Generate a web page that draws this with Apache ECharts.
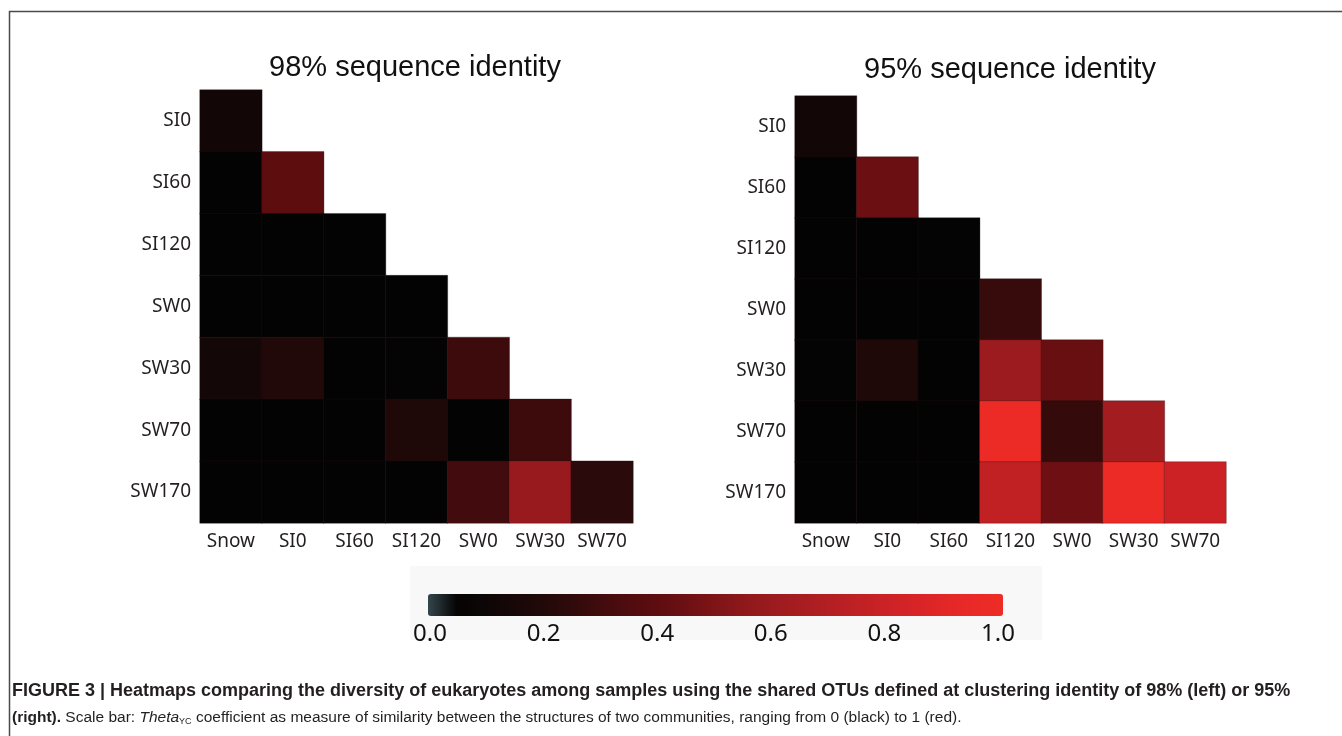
<!DOCTYPE html>
<html>
<head>
<meta charset="utf-8">
<style>
  html, body { margin: 0; padding: 0; background: #fff; }
  #main { width: 1342px; height: 736px; }
</style>
<script src="https://cdn.jsdelivr.net/npm/echarts@6/dist/echarts.min.js"></script>
</head>
<body>
<div id="main"></div>
<script>
; (function () {

    // samples (rows top -> bottom, columns left -> right)
    var rows = ['SI0', 'SI60', 'SI120', 'SW0', 'SW30', 'SW70', 'SW170'];
    var cols = ['Snow', 'SI0', 'SI60', 'SI120', 'SW0', 'SW30', 'SW70'];

    // Theta_YC, lower triangle, one array per row
    var theta98 = [
        [0.12],
        [0.02, 0.40],
        [0.02, 0.02, 0.02],
        [0.02, 0.02, 0.02, 0.02],
        [0.13, 0.20, 0.02, 0.03, 0.29],
        [0.02, 0.02, 0.02, 0.18, 0.02, 0.29],
        [0.02, 0.02, 0.02, 0.02, 0.30, 0.59, 0.23]
    ];
    var theta95 = [
        [0.12],
        [0.02, 0.44],
        [0.02, 0.02, 0.03],
        [0.02, 0.02, 0.02, 0.27],
        [0.04, 0.18, 0.02, 0.60, 0.43],
        [0.02, 0.02, 0.02, 0.98, 0.26, 0.63],
        [0.02, 0.02, 0.02, 0.76, 0.45, 0.98, 0.80]
    ];

    // colour ramp, stops every 0.05
    var ramp = ['#33464c', '#060404', '#0e0606', '#180707', '#220909', '#300a0b',
        '#420b0d', '#500c0e', '#5e0d0f', '#6e1013', '#7e1417', '#8e181b', '#9c1b1f',
        '#a81d21', '#b41f23', '#c02124', '#cc2226', '#d82427', '#e22727', '#ea2a27', '#ee2b27'];
    var cellRamp = ramp.slice();
    cellRamp[0] = '#030303';

    function toCells(tri) {
        var out = [];
        tri.forEach(function (row, r) {
            row.forEach(function (v, c) { out.push([c, r, v]); });
        });
        return out;
    }

    var font = '"Noto Sans", sans-serif';
    var labelStyle = { color: '#231f20', fontSize: 19, fontFamily: font };

    function catX(gi) {
        return {
            type: 'category', gridIndex: gi, data: cols,
            axisLine: { show: false }, axisTick: { show: false }, splitLine: { show: false },
            axisLabel: Object.assign({ margin: 9, interval: 0 }, labelStyle)
        };
    }
    function catY(gi) {
        return {
            type: 'category', gridIndex: gi, data: rows, inverse: true,
            axisLine: { show: false }, axisTick: { show: false }, splitLine: { show: false },
            axisLabel: Object.assign({ margin: 9, interval: 0 }, labelStyle)
        };
    }
    var cellStyle = { borderColor: 'rgba(40,18,18,0.55)', borderWidth: 0.6 };

    var myChart = echarts.init(document.getElementById('main'));
    var option = {
        backgroundColor: '#fff',
        animation: false,
        grid: [
            { left: 200, top: 90, width: 433, height: 433 },
            { left: 795, top: 96, width: 431, height: 427 },
            { left: 430, top: 594, width: 568, height: 22 }
        ],
        xAxis: [
            catX(0), catX(1),
            {
                type: 'value', gridIndex: 2, min: 0, max: 1, interval: 0.2,
                axisLine: { show: false }, axisTick: { show: false }, splitLine: { show: false },
                axisLabel: {
                    margin: 6, color: '#111', fontSize: 24, fontFamily: font,
                    formatter: function (v) { return v.toFixed(1); }
                }
            }
        ],
        yAxis: [
            catY(0), catY(1),
            { type: 'value', gridIndex: 2, show: false }
        ],
        visualMap: [
            {
                type: 'continuous', show: false, min: 0, max: 1,
                seriesIndex: [0, 1],
                inRange: { color: cellRamp }
            },
            {
                type: 'continuous', show: true, min: 0, max: 1,
                seriesIndex: [],
                orient: 'horizontal', calculable: false,
                left: 423, top: 589, padding: 5,
                itemWidth: 22, itemHeight: 575,
                text: null,
                inRange: { color: ramp }
            }
        ],
        series: [
            {
                name: '98%', type: 'heatmap', xAxisIndex: 0, yAxisIndex: 0,
                data: toCells(theta98), itemStyle: cellStyle
            },
            {
                name: '95%', type: 'heatmap', xAxisIndex: 1, yAxisIndex: 1,
                data: toCells(theta95), itemStyle: cellStyle
            }
        ],
        graphic: [
            // figure frame
            {
                type: 'polyline', z: 10,
                shape: { points: [[9.5, 736], [9.5, 11.5], [1342, 11.5]] },
                style: { stroke: '#4a4a4a', lineWidth: 1.5, fill: null }
            },
            // scale bar backdrop
            {
                type: 'rect', z: -10,
                shape: { x: 410, y: 566, width: 632, height: 74 },
                style: { fill: '#f8f8f8' }
            },
            {
                type: 'text', x: 415, y: 68,
                style: {
                    text: '98% sequence identity', fill: '#111',
                    font: '29px "Liberation Sans", Arial, sans-serif',
                    textAlign: 'center', textVerticalAlign: 'middle'
                }
            },
            {
                type: 'text', x: 1010, y: 70,
                style: {
                    text: '95% sequence identity', fill: '#111',
                    font: '29px "Liberation Sans", Arial, sans-serif',
                    textAlign: 'center', textVerticalAlign: 'middle'
                }
            },
            {
                type: 'text', x: 12, y: 691,
                style: {
                    text: 'FIGURE 3 | Heatmaps comparing the diversity of eukaryotes among samples using the shared OTUs defined at clustering identity of 98% (left) or 95%',
                    fill: '#231f20',
                    font: 'bold 18px "Liberation Sans", Arial, sans-serif',
                    textVerticalAlign: 'middle'
                }
            },
            {
                type: 'text', x: 12, y: 718,
                style: {
                    text: '{b|(right).} Scale bar: {i|Theta}{s|YC} coefficient as measure of similarity between the structures of two communities, ranging from 0 (black) to 1 (red).',
                    fill: '#231f20',
                    font: '15.5px "Liberation Sans", Arial, sans-serif',
                    textVerticalAlign: 'middle',
                    rich: {
                        b: { fontWeight: 'bold', fontSize: 15.5, fontFamily: 'Liberation Sans', fill: '#231f20' },
                        i: { fontStyle: 'italic', fontSize: 15.5, fontFamily: 'Liberation Sans', fill: '#231f20' },
                        s: { fontSize: 9, fontFamily: 'Liberation Sans', fill: '#231f20', padding: [8, 0, 0, 0] }
                    }
                }
            }
        ]
    };

    myChart.setOption(option);
})();
</script>
</body>
</html>
